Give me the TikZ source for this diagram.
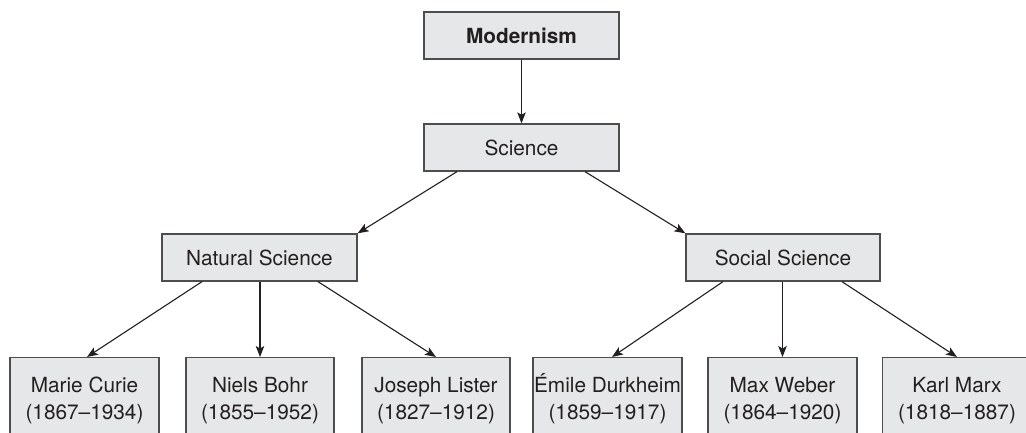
\documentclass[tikz,border=0pt]{standalone}
\usepackage{fontspec}
\setmainfont{TeX Gyre Heros}
\usetikzlibrary{arrows.meta}
\definecolor{boxfill}{HTML}{E6E7E8}
\definecolor{boxline}{HTML}{4D4D4F}
\definecolor{ink}{HTML}{231F20}
\begin{document}
\begin{tikzpicture}[x=1pt,y=-1pt,
  box/.style={draw=boxline, fill=boxfill, line width=1.3pt, minimum width=195pt,
    minimum height=47pt, inner sep=0pt, text=ink, font=\fontsize{20.8}{27}\selectfont},
  leaf/.style={box, minimum width=149pt, minimum height=82pt, anchor=north, align=center},
  link/.style={draw=ink, line width=1.1pt, -{Stealth[length=11pt,width=8.5pt,inset=2.5pt]}}]
\useasboundingbox (0,0) rectangle (1026,433);
\clip (0,0) rectangle (1026,433);
\fill[white] (0,0) rectangle (1026,433);

\node[box, font=\fontsize{20.8}{27}\selectfont\bfseries] (mod) at (521.5,35.5) {Modernism};
\node[box] (sci) at (521.5,147.5) {Science};
\node[box] (nat) at (259.5,257.5) {Natural Science};
\node[box, minimum width=194pt] (soc) at (783,257.5) {Social Science};

\node[leaf] (curie)  at (84.5,357)  {\vphantom{É}Marie Curie\\(1867--1934)};
\node[leaf, minimum width=148pt] (bohr)   at (260,357)   {\vphantom{É}Niels Bohr\\(1855--1952)};
\node[leaf, minimum width=148pt] (lister) at (436,357)   {\vphantom{É}Joseph Lister\\(1827--1912)};
\node[leaf] (durk)   at (607.5,357) {Émile Durkheim\\(1859--1917)};
\node[leaf] (weber)  at (782.5,357) {\vphantom{É}Max Weber\\(1864--1920)};
\node[leaf] (marx)   at (957,357)   {\vphantom{É}Karl Marx\\(1818--1887)};

\draw[link] (mod.south) -- (sci.north);
\draw[link] ([xshift=-64.5pt]sci.south) -- (nat.north east);
\draw[link] ([xshift=63.5pt]sci.south) -- (soc.north west);

\draw[link] ([xshift=-57.5pt]nat.south) -- ([xshift=2.5pt]curie.north);
\draw[link] (bohr.north |- nat.south) -- (bohr.north);
\draw[link] ([xshift=58.5pt]nat.south) -- (lister.north);

\draw[link] ([xshift=-60pt]soc.south) -- ([xshift=4.5pt]durk.north);
\draw[link] (weber.north |- soc.south) -- (weber.north);
\draw[link] ([xshift=59pt]soc.south) -- (marx.north);
\end{tikzpicture}
\end{document}
